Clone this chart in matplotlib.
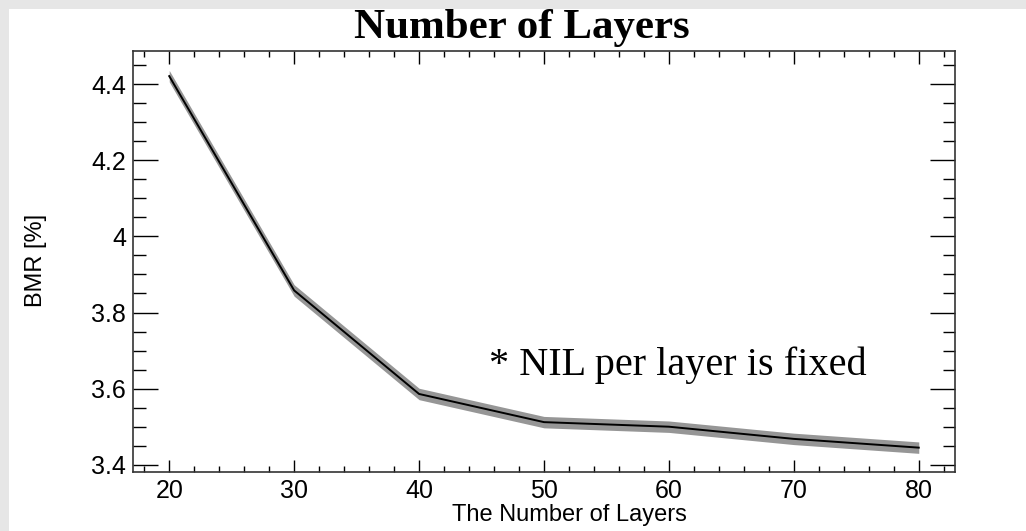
import numpy as np
import matplotlib
matplotlib.use('Agg')
import matplotlib.pyplot as plt
from matplotlib.patches import Rectangle
from matplotlib.ticker import MultipleLocator

plt.rc('font', family='Liberation Sans')

# data
layers = [20, 30, 40, 50, 60, 70, 80]
bmr = [4.421, 3.858, 3.586, 3.512, 3.500, 3.468, 3.445]
band = [0.015, 0.015, 0.015, 0.015, 0.015, 0.015, 0.015]

title = 'Number of Layers'
note = '* NIL per layer is fixed'

W, H = 1026, 531
fig = plt.figure(figsize=(W/100, H/100), dpi=100, facecolor='#e6e6e6')
fig.patches.append(Rectangle((9/W, 0), 1 - 9/W, (H - 9)/H, transform=fig.transFigure,
                             facecolor='white', edgecolor='none', zorder=-10))

ax = fig.add_axes([133/W, 1 - 472/H, (955 - 133)/W, (472 - 51)/H])
ax.set_facecolor('white')

x = np.array(layers)
y = np.array(bmr)
e = np.array(band)
ax.fill_between(x, y - e, y + e, color='#969696', lw=0, zorder=2)
ax.plot(x, y, color='black', lw=1.4, zorder=3)

ax.set_xlim(17.1, 82.9)
ax.set_ylim(3.381, 4.487)
ax.set_xticks([20, 30, 40, 50, 60, 70, 80])
ax.set_yticks([3.4, 3.6, 3.8, 4.0, 4.2, 4.4])
ax.set_yticklabels(['3.4', '3.6', '3.8', '4', '4.2', '4.4'])
ax.xaxis.set_minor_locator(MultipleLocator(2))
ax.yaxis.set_minor_locator(MultipleLocator(0.05))

ax.tick_params(axis='x', which='major', direction='in', length=9, width=1,
               top=True, labelsize=18, pad=5)
ax.tick_params(axis='x', which='minor', direction='in', length=4.5, width=1, top=True)
ax.tick_params(axis='y', which='major', direction='in', length=18, width=1,
               right=True, labelsize=18, pad=5)
ax.tick_params(axis='y', which='minor', direction='in', length=9, width=1, right=True)
for s in ax.spines.values():
    s.set_color('#333333')
    s.set_linewidth(1.2)

fig.text(36/W, 1 - 260/H, 'BMR [%]', rotation=90, fontsize=17,
         ha='center', va='center')
fig.text(569/W, 1 - 521/H, 'The Number of Layers', fontsize=17,
         ha='center', va='baseline')
fig.text(522/W, 1 - 38/H, title, fontsize=31, fontweight='bold',
         family='Liberation Serif', ha='center', va='baseline')
fig.text(678/W, 1 - 375/H, note, fontsize=29, family='Liberation Serif',
         ha='center', va='baseline')

fig.savefig('out.png', dpi=100, facecolor=fig.get_facecolor())
